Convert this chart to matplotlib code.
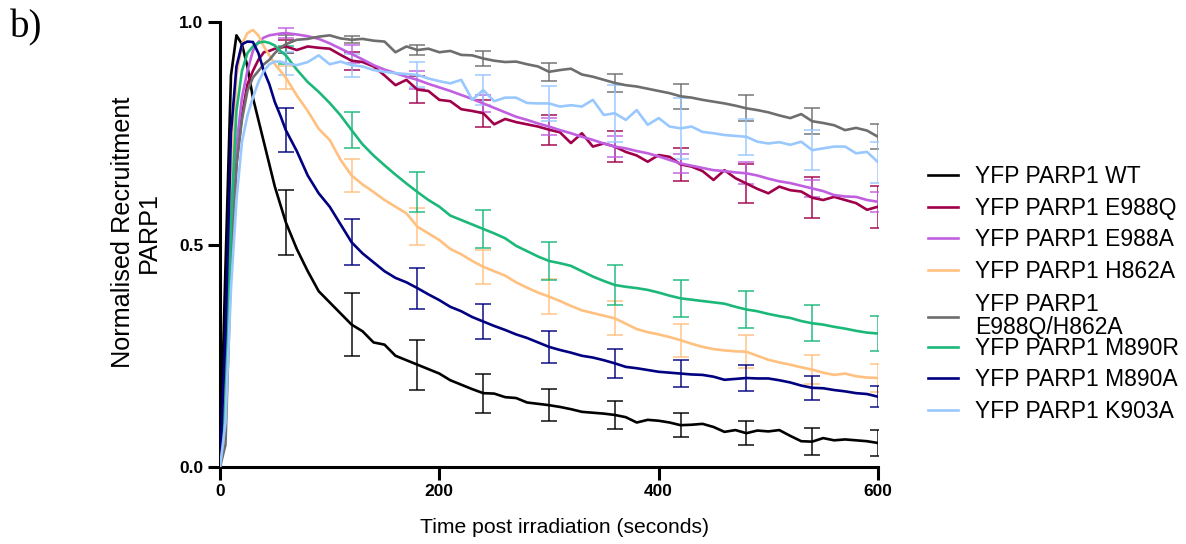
import matplotlib
matplotlib.use('Agg')
import matplotlib.pyplot as plt

plt.rcParams['font.family'] = ['Liberation Sans', 'DejaVu Sans']

# time points (seconds)
time = [0, 5, 10, 15, 20, 25, 30, 35, 40, 45, 50, 55, 60,
        70, 80, 90, 100, 110, 120, 130, 140, 150, 160, 170, 180, 190, 200,
        210, 220, 230, 240, 250, 260, 270, 280, 290, 300, 310, 320, 330, 340,
        350, 360, 370, 380, 390, 400, 410, 420, 430, 440, 450, 460, 470, 480,
        490, 500, 510, 520, 530, 540, 550, 560, 570, 580, 590, 600]

wt = [0, 0.45, 0.88, 0.97, 0.95, 0.9, 0.83, 0.78, 0.73, 0.68, 0.63, 0.59, 0.55,
      0.49, 0.44, 0.395, 0.37, 0.345, 0.32, 0.305, 0.28, 0.275, 0.25, 0.24, 0.23, 0.22, 0.21,
      0.195, 0.185, 0.175, 0.166, 0.165, 0.157, 0.155, 0.145, 0.142, 0.139, 0.135, 0.13, 0.124, 0.122,
      0.12, 0.117, 0.112, 0.1, 0.106, 0.104, 0.1, 0.094, 0.095, 0.097, 0.09, 0.079, 0.083, 0.076,
      0.082, 0.08, 0.083, 0.07, 0.058, 0.057, 0.065, 0.06, 0.062, 0.06, 0.058, 0.054]

e988q = [0, 0.12, 0.45, 0.68, 0.79, 0.86, 0.89, 0.915, 0.932, 0.935, 0.94, 0.942, 0.945,
         0.937, 0.945, 0.942, 0.94, 0.926, 0.913, 0.91, 0.9, 0.88, 0.858, 0.87, 0.848, 0.845, 0.825,
         0.822, 0.804, 0.8, 0.795, 0.77, 0.782, 0.775, 0.77, 0.765, 0.758, 0.752, 0.728, 0.75, 0.72,
         0.727, 0.72, 0.708, 0.7, 0.686, 0.701, 0.697, 0.68, 0.675, 0.665, 0.645, 0.667, 0.649, 0.637,
         0.625, 0.615, 0.63, 0.622, 0.619, 0.605, 0.6, 0.607, 0.6, 0.593, 0.578, 0.585]

e988a = [0, 0.15, 0.5, 0.72, 0.83, 0.89, 0.935, 0.955, 0.965, 0.97, 0.972, 0.974, 0.975,
         0.972, 0.968, 0.962, 0.952, 0.94, 0.928, 0.916, 0.903, 0.893, 0.885, 0.877, 0.87, 0.861, 0.853,
         0.845, 0.836, 0.827, 0.817, 0.807, 0.797, 0.787, 0.78, 0.772, 0.765, 0.757, 0.75, 0.742, 0.735,
         0.727, 0.72, 0.716, 0.71, 0.705, 0.698, 0.69, 0.682, 0.677, 0.672, 0.667, 0.665, 0.662, 0.66,
         0.655, 0.648, 0.642, 0.638, 0.632, 0.626, 0.62, 0.611, 0.608, 0.607, 0.6, 0.596]

h862a = [0, 0.2, 0.6, 0.88, 0.95, 0.975, 0.982, 0.97, 0.945, 0.925, 0.905, 0.89, 0.875,
         0.835, 0.8, 0.76, 0.735, 0.69, 0.655, 0.635, 0.618, 0.6, 0.585, 0.57, 0.54, 0.525, 0.51,
         0.49, 0.478, 0.463, 0.45, 0.44, 0.43, 0.415, 0.403, 0.392, 0.383, 0.373, 0.362, 0.352, 0.346,
         0.34, 0.334, 0.322, 0.31, 0.303, 0.298, 0.292, 0.285, 0.277, 0.27, 0.265, 0.262, 0.26, 0.259,
         0.25, 0.241, 0.235, 0.23, 0.224, 0.219, 0.212, 0.207, 0.21, 0.204, 0.201, 0.2]

e988q_h862a = [0, 0.05, 0.45, 0.68, 0.78, 0.845, 0.875, 0.89, 0.905, 0.915, 0.93, 0.942, 0.95,
               0.96, 0.962, 0.967, 0.97, 0.963, 0.96, 0.962, 0.958, 0.956, 0.932, 0.945, 0.937, 0.94, 0.932,
               0.935, 0.926, 0.925, 0.918, 0.913, 0.91, 0.911, 0.905, 0.9, 0.888, 0.892, 0.895, 0.882, 0.877,
               0.87, 0.863, 0.858, 0.855, 0.85, 0.845, 0.84, 0.833, 0.83, 0.825, 0.821, 0.817, 0.812, 0.806,
               0.802, 0.797, 0.79, 0.784, 0.793, 0.777, 0.773, 0.768, 0.757, 0.762, 0.756, 0.742]

m890r = [0, 0.15, 0.55, 0.8, 0.89, 0.93, 0.945, 0.953, 0.956, 0.953, 0.947, 0.935, 0.925,
         0.893, 0.865, 0.843, 0.818, 0.79, 0.757, 0.725, 0.7, 0.678, 0.657, 0.637, 0.618, 0.6, 0.585,
         0.565, 0.555, 0.545, 0.535, 0.525, 0.514, 0.497, 0.485, 0.473, 0.463, 0.458, 0.452, 0.44, 0.428,
         0.418, 0.409, 0.405, 0.402, 0.398, 0.392, 0.385, 0.379, 0.376, 0.373, 0.37, 0.367, 0.36, 0.354,
         0.35, 0.344, 0.339, 0.335, 0.328, 0.323, 0.32, 0.315, 0.311, 0.306, 0.302, 0.3]

m890a = [0, 0.3, 0.75, 0.9, 0.95, 0.956, 0.955, 0.93, 0.89, 0.86, 0.82, 0.79, 0.757,
         0.71, 0.655, 0.615, 0.585, 0.545, 0.505, 0.48, 0.46, 0.44, 0.425, 0.415, 0.402, 0.388, 0.375,
         0.36, 0.35, 0.337, 0.327, 0.317, 0.308, 0.298, 0.29, 0.28, 0.27, 0.263, 0.257, 0.25, 0.246,
         0.24, 0.233, 0.225, 0.222, 0.218, 0.214, 0.212, 0.21, 0.208, 0.207, 0.203, 0.196, 0.198, 0.2,
         0.199, 0.199, 0.195, 0.19, 0.183, 0.178, 0.177, 0.173, 0.17, 0.166, 0.164, 0.158]

k903a = [0, 0.1, 0.4, 0.6, 0.73, 0.79, 0.83, 0.865, 0.89, 0.905, 0.911, 0.911, 0.907,
         0.903, 0.91, 0.925, 0.905, 0.911, 0.903, 0.9, 0.892, 0.888, 0.885, 0.883, 0.881, 0.873, 0.867,
         0.862, 0.87, 0.825, 0.847, 0.822, 0.83, 0.83, 0.818, 0.817, 0.817, 0.81, 0.813, 0.81, 0.825,
         0.791, 0.795, 0.78, 0.802, 0.769, 0.784, 0.765, 0.761, 0.765, 0.753, 0.75, 0.746, 0.744, 0.742,
         0.731, 0.727, 0.73, 0.724, 0.731, 0.712, 0.716, 0.72, 0.72, 0.705, 0.708, 0.685]

# error bars (half length) every 60 s
err_time = [60, 120, 180, 240, 300, 360, 420, 480, 540, 600]
wt_err = [0.073, 0.07, 0.056, 0.044, 0.036, 0.031, 0.027, 0.027, 0.03, 0.029]
e988q_err = [0.015, 0.02, 0.03, 0.03, 0.034, 0.034, 0.037, 0.044, 0.046, 0.047]
e988a_err = [0.012, 0.02, 0.02, 0.02, 0.02, 0.023, 0.022, 0.025, 0.019, 0.022]
h862a_err = [0.025, 0.037, 0.042, 0.038, 0.04, 0.038, 0.037, 0.037, 0.032, 0.031]
e988q_h862a_err = [0.02, 0.008, 0.011, 0.017, 0.02, 0.021, 0.028, 0.029, 0.029, 0.028]
m890r_err = [0.02, 0.041, 0.045, 0.042, 0.043, 0.044, 0.042, 0.041, 0.04, 0.04]
m890a_err = [0.049, 0.052, 0.046, 0.04, 0.036, 0.033, 0.031, 0.029, 0.027, 0.024]
k903a_err = [0.026, 0.026, 0.028, 0.034, 0.04, 0.064, 0.069, 0.04, 0.045, 0.046]

labels = ['YFP PARP1 WT', 'YFP PARP1 E988Q', 'YFP PARP1 E988A', 'YFP PARP1 H862A',
          'YFP PARP1\nE988Q/H862A', 'YFP PARP1 M890R', 'YFP PARP1 M890A', 'YFP PARP1 K903A']
colors = ['#000000', '#a0004a', '#c060e0', '#ffc080', '#6e6e6e', '#1cb87a', '#000080', '#99c8ff']
series = [wt, e988q, e988a, h862a, e988q_h862a, m890r, m890a, k903a]
errors = [wt_err, e988q_err, e988a_err, h862a_err, e988q_h862a_err, m890r_err, m890a_err, k903a_err]

fig = plt.figure(figsize=(11.86, 5.44), dpi=100)
ax = fig.add_axes([0.1855, 0.1415, 0.5548, 0.8181])

handles = []
for ys, errs, col, lab in zip(series, errors, colors, labels):
    ln, = ax.plot(time, ys, color=col, lw=1.9, label=lab, zorder=3)
    handles.append(ln)
    centres = [ys[time.index(t)] for t in err_time]
    ax.errorbar(err_time, centres, yerr=errs, fmt='none', ecolor=col,
                elinewidth=1.3, capsize=5.5, capthick=1.3, alpha=0.8, zorder=2)

ax.set_xlim(0, 600)
ax.set_ylim(0, 1.0)
ax.set_xticks([0, 200, 400, 600])
ax.set_yticks([0.0, 0.5, 1.0])
ax.set_yticklabels(['0.0', '0.5', '1.0'])
ax.spines['top'].set_visible(False)
ax.spines['right'].set_visible(False)
ax.spines['left'].set_linewidth(2.2)
ax.spines['bottom'].set_linewidth(2.2)
ax.tick_params(axis='both', width=2.2, length=9, labelsize=12.5, pad=3)
for lbl in ax.get_xticklabels() + ax.get_yticklabels():
    lbl.set_fontweight('bold')

ax.set_xlabel('Time post irradiation (seconds)', fontsize=15.2, labelpad=10)
ax.xaxis.set_label_coords(0.524, -0.115)
ax.set_ylabel('Normalised Recruitment\nPARP1', fontsize=18.2, labelpad=10, linespacing=1.1)
ax.yaxis.set_label_coords(-0.09, 0.528)

# legend split in three blocks so the two-line entry sits tight like the original
leg_kw = dict(loc='center left', frameon=False, fontsize=16.5, handlelength=1.3,
              handletextpad=0.75, labelspacing=0.39)
leg1 = fig.legend(handles[:4], labels[:4], bbox_to_anchor=(0.765, 0.5882), **leg_kw)
leg2 = fig.legend(handles[4:5], labels[4:5], bbox_to_anchor=(0.765, 0.4191), **leg_kw)
for txt in leg2.get_texts():
    txt.set_linespacing(1.0)
leg3 = fig.legend(handles[5:], labels[5:], bbox_to_anchor=(0.765, 0.3015), **leg_kw)

fig.text(0.008, 0.982, 'b)', fontsize=28, family='Liberation Serif', va='top')

plt.savefig('out.png', dpi=100)
